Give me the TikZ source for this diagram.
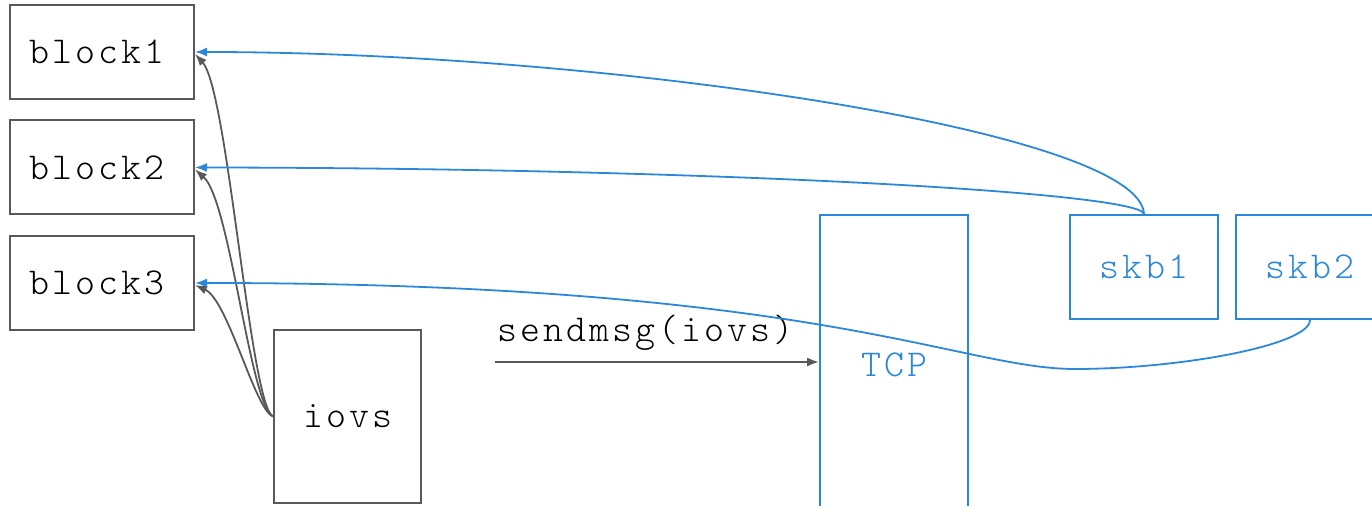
\documentclass[tikz,border=0pt]{standalone}
\usepackage{fontspec}
\usetikzlibrary{arrows.meta}
\definecolor{gline}{HTML}{595959}
\definecolor{bline}{HTML}{2B88D8}
\newfontfamily\lmmonolight{lmmonolt10-regular.otf}[LetterSpace=8]
\newcommand{\monof}{\lmmonolight\fontsize{19pt}{21pt}\selectfont}
\tikzset{
  gbox/.style={draw=gline, line width=1pt, rectangle, inner sep=0pt, text=black, font=\monof},
  blk/.style={gbox, inner xsep=10pt, text width=72pt, align=left, minimum height=47pt},
  bbox/.style={draw=bline, line width=1pt, rectangle, inner sep=0pt, text=bline, font=\monof},
  garrow/.style={draw=gline, line width=0.9pt, -{Latex[length=6pt,width=4.5pt]}},
  barrow/.style={draw=bline, line width=0.9pt, -{Latex[length=6pt,width=4.5pt]}},
  lbl/.style={inner sep=0pt, font=\monof},
}
\begin{document}
\begin{tikzpicture}[x=0.5pt,y=-0.5pt]
\useasboundingbox (0,0) rectangle (1372,506);
\clip (0,0) rectangle (1372,506);
\node[blk] (b1) at (102,52) {block1};
\node[blk] (b2) at (102,167.5) {block2};
\node[blk] (b3) at (102,283) {block3};
\node[gbox, minimum width=73.5pt, minimum height=86.5pt] (iovs) at (347.5,416.5) {iovs};
\node[bbox, minimum width=74pt, minimum height=150pt] (tcp) at (894,365) {TCP};
\node[bbox, minimum width=74pt, minimum height=52pt] (skb1) at (1144,267) {skb1};
\node[bbox, minimum width=74pt, minimum height=52pt] (skb2) at (1310,267) {skb2};
\coordinate (s) at (495,362);
\node[lbl, anchor=base west] (sm) at (497,342) {sendmsg(iovs)};
\draw[garrow] (s) -- (s -| tcp.west);
% gray curves
\draw[garrow] (iovs.west) .. controls (250,405) and (228,90) .. ([yshift=-1pt]b1.east);
\draw[garrow] (iovs.west) .. controls (250,405) and (230,200) .. ([yshift=-1pt]b2.east);
\draw[garrow] (iovs.west) .. controls (255,410) and (228,300) .. ([yshift=-1pt]b3.east);
% blue curves
\draw[barrow] (skb1.north) .. controls (1140,130) and (600,52) .. (b1.east);
\draw[barrow] (skb1.north) .. controls (1140,192) and (700,168) .. (b2.east);
\coordinate (low) at (1075,369);
\draw[barrow] (skb2.south) .. controls (1310,345) and (1180,369) .. (low)
   .. controls (960,369) and (820,283) .. (b3.east);
\end{tikzpicture}
\end{document}
